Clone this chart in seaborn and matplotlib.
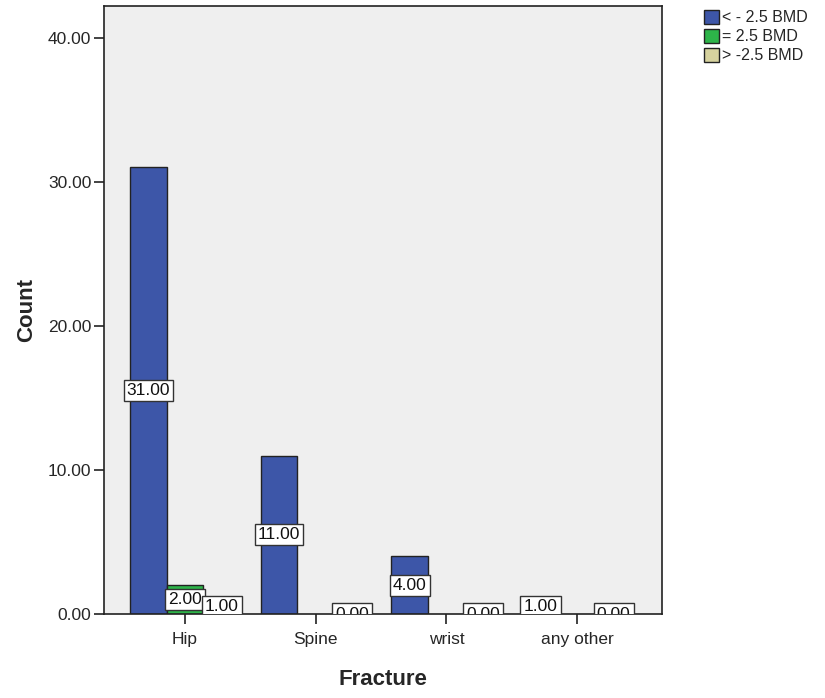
import numpy as np
import pandas as pd
import matplotlib
matplotlib.use("Agg")
import matplotlib.pyplot as plt
import seaborn as sns
from matplotlib.patches import Patch

categories = ["Hip", "Spine", "wrist", "any other"]
series_names = ["< - 2.5 BMD", "= 2.5 BMD", "> -2.5 BMD"]
low_bmd = [31, 11, 4, 1]
eq_bmd = [2, None, None, None]
high_bmd = [1, 0, 0, 0]
colors = ["#3D56A8", "#2DB449", "#D6D29E"]
yticks = [0, 10, 20, 30, 40]

rows = []
for s, vals in zip(series_names, [low_bmd, eq_bmd, high_bmd]):
    for c, v in zip(categories, vals):
        rows.append({"Fracture": c, "BMD": s, "Count": np.nan if v is None else v})
df = pd.DataFrame(rows)

sns.set_theme(style="white")
plt.rcParams['font.family'] = ['Liberation Sans', 'DejaVu Sans']

fig = plt.figure(figsize=(8.25, 6.98), dpi=100)
ax = fig.add_axes([0.126, 0.1203, 0.6764, 0.8711])
ax.set_facecolor("#EFEFEF")

sns.barplot(data=df, x="Fracture", y="Count", hue="BMD", order=categories,
            hue_order=series_names, palette=colors, width=0.84, gap=0,
            edgecolor="#222222", linewidth=1.0, errorbar=None, ax=ax,
            legend=False, saturation=1)

n = len(series_names)
bw = 0.84 / n
for i, (s, vals) in enumerate(zip(series_names, [low_bmd, eq_bmd, high_bmd])):
    for j, v in enumerate(vals):
        if v is None:
            continue
        x = j - 0.42 + bw * (i + 0.5)
        ax.text(x, v / 2, f"{v:.2f}", ha="center", va="center", fontsize=12.5,
                color="#111111", clip_on=True,
                bbox=dict(boxstyle="square,pad=0.18", facecolor="white",
                          edgecolor="#333333", linewidth=1.0))

ax.set_xlim(-0.62, 3.65)
ax.set_ylim(0, 42.2)
ax.set_yticks(yticks)
ax.set_yticklabels([f"{t:.2f}" for t in yticks], fontsize=12.5)
ax.set_xticks(range(len(categories)))
ax.set_xticklabels(categories, fontsize=12.5)
ax.tick_params(axis="both", which="both", length=7, width=1.2, color="#222222",
               direction="out", left=True, bottom=True)
ax.tick_params(axis="x", pad=6)
ax.tick_params(axis="y", pad=2)
for sp in ax.spines.values():
    sp.set_color("#222222")
    sp.set_linewidth(1.2)
ax.set_xlabel("Fracture", fontsize=16, fontweight="bold", labelpad=16)
ax.set_ylabel("Count", fontsize=16, fontweight="bold", labelpad=8)

handles = [Patch(facecolor=c, edgecolor="#222222", label=s) for c, s in zip(colors, series_names)]
fig.legend(handles=handles, loc="upper left", bbox_to_anchor=(0.845, 0.995),
           frameon=False, fontsize=11.5, handlelength=1.0, handleheight=1.0,
           handletextpad=0.15, labelspacing=0.2, borderaxespad=0)

fig.savefig("out.png", dpi=100)
